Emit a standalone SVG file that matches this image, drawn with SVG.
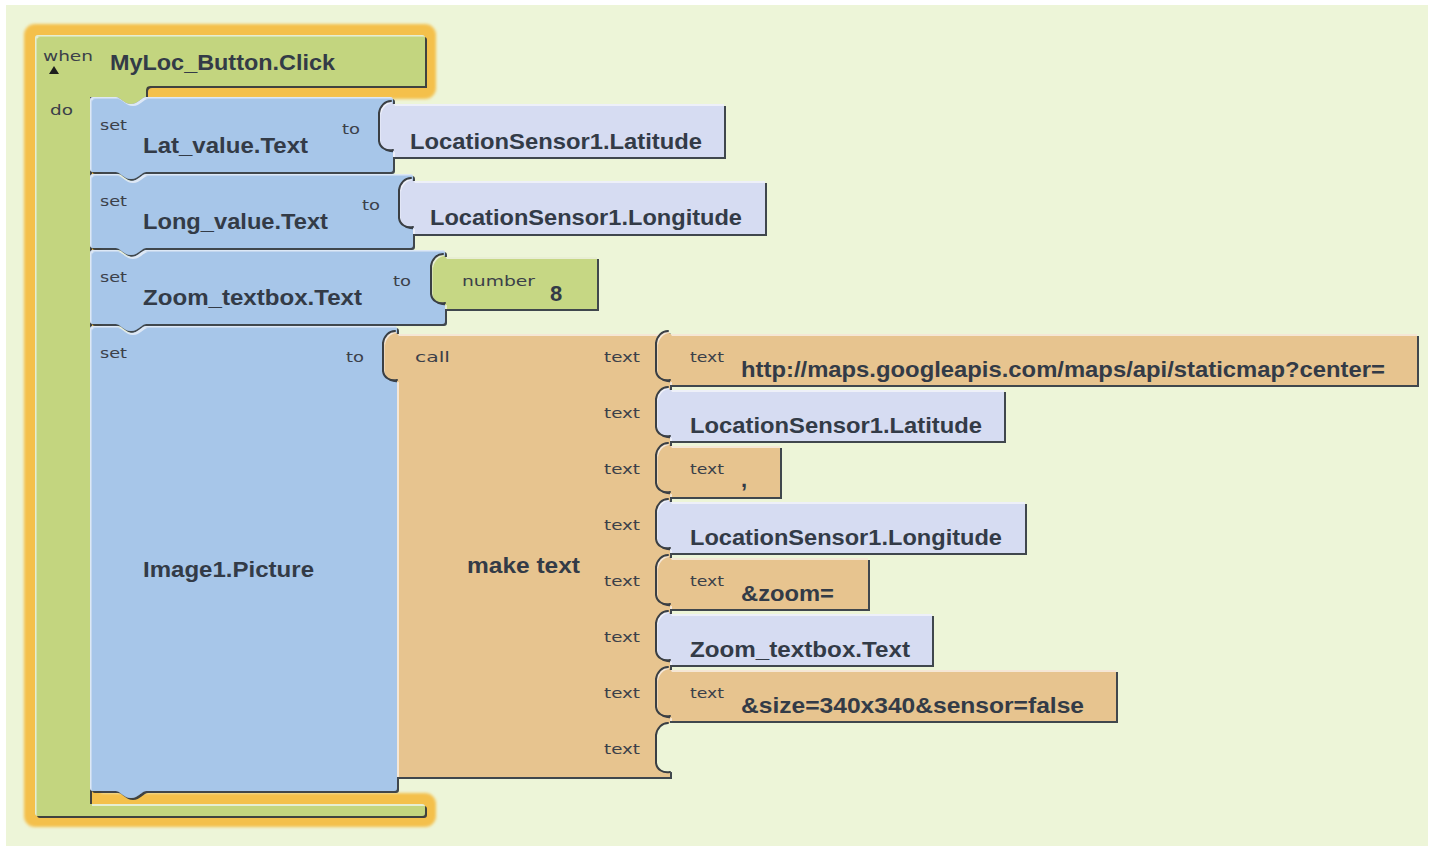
<svg xmlns="http://www.w3.org/2000/svg" width="1433" height="850" viewBox="0 0 1433 850">
  <defs>
    <style>
      .lbl { font-family: "DejaVu Sans", "Liberation Sans", sans-serif; font-size: 14px; fill: #3b4049; }
      .big { font-family: "Liberation Sans", Arial, sans-serif; font-weight: bold; font-size: 22px; fill: #333b47; }
      .event { fill: #c3d57f; }
      .setb { fill: #a7c6e9; }
      .getb { fill: #d6dcf2; }
      .txtb { fill: #e7c48f; }
      .numb { fill: #c6d784; }
      .sock { fill: none; stroke: #3a3f44; stroke-width: 2; stroke-linecap: round; }
    </style>
    <!-- dark lower/right rim plus a pale upper/left rim on every block -->
    <filter id="bevel" x="-5%" y="-5%" width="110%" height="110%">
      <feOffset in="SourceAlpha" dx="2" dy="2" result="off"/>
      <feFlood flood-color="#2b333d" flood-opacity="0.9"/>
      <feComposite in2="off" operator="in" result="shade"/>
      <feOffset in="SourceAlpha" dx="1.5" dy="1.5" result="off2"/>
      <feComposite in="SourceAlpha" in2="off2" operator="out" result="rim"/>
      <feFlood flood-color="#ffffff" flood-opacity="0.55"/>
      <feComposite in2="rim" operator="in" result="hl"/>
      <feMerge>
        <feMergeNode in="shade"/>
        <feMergeNode in="SourceGraphic"/>
        <feMergeNode in="hl"/>
      </feMerge>
    </filter>
    <filter id="glow" x="-10%" y="-10%" width="120%" height="120%">
      <feGaussianBlur stdDeviation="1.6"/>
    </filter>
  </defs>

  <!-- canvas -->
  <rect x="0" y="0" width="1433" height="850" fill="#ffffff"/>
  <rect x="6" y="5" width="1422" height="841" fill="#edf5d8"/>

  <g id="connectors"/>

  <!-- event handler: when MyLoc_Button.Click do -->
  <g id="when-block">
    <path filter="url(#glow)" fill="none" stroke="#f4c04c" stroke-width="22" stroke-linejoin="round"
          d="M35,35 H425 V88 H90 V804 H425 V816 H35 Z"/>
    <path class="event" filter="url(#bevel)"
          d="M35,38 Q35,35 38,35 H422 Q425,35 425,38 V86 H150 Q146,86 146,90 V97 C142,97 138,104 131,104 C124,104 120,97 116,97 H90 V804 H422 Q425,804 425,807 V813 Q425,816 422,816 H38 Q35,816 35,813 Z"/>
    <text class="lbl" x="43" y="61" textLength="50" lengthAdjust="spacingAndGlyphs">when</text>
    <polygon points="54,66 49,74 59,74" fill="#1e1e1e"/>
    <text class="big" x="110" y="70" textLength="225" lengthAdjust="spacingAndGlyphs">MyLoc_Button.Click</text>
    <text class="lbl" x="50" y="115" textLength="23" lengthAdjust="spacingAndGlyphs">do</text>
  </g>

  <!-- set Lat_value.Text -->
  <g id="set-lat">
    <path class="setb" filter="url(#bevel)"
          d="M90,100 Q90,97 93,97 H116 C120,97 124,104 131,104 C138,104 142,97 146,97 H390 Q393,97 393,100 V169 Q393,172 390,172 H146 C142,172 138,179 131,179 C124,179 120,172 116,172 H93 Q90,172 90,169 Z"/>
    <text class="lbl" x="100" y="130" textLength="27" lengthAdjust="spacingAndGlyphs">set</text>
    <text class="big" x="143" y="153" textLength="165" lengthAdjust="spacingAndGlyphs">Lat_value.Text</text>
    <text class="lbl" x="342" y="134" textLength="18" lengthAdjust="spacingAndGlyphs">to</text>
  </g>
  <g id="get-lat-1">
    <path class="getb" filter="url(#bevel)"
          d="M393,104 H724 V157 H393 V150 C386,151 380,148 379,141 V113 C380,106 385,101 391,101 Z"/>
    <path class="sock" d="M393,150 C386,151 380,148 379,141 V113 C380,106 385,101 391,101"/>
    <text class="big" x="410" y="149" textLength="292" lengthAdjust="spacingAndGlyphs">LocationSensor1.Latitude</text>
  </g>

  <!-- set Long_value.Text -->
  <g id="set-long">
    <path class="setb" filter="url(#bevel)"
          d="M90,177 Q90,174 93,174 H116 C120,174 124,181 131,181 C138,181 142,174 146,174 H410 Q413,174 413,177 V245 Q413,248 410,248 H146 C142,248 138,255 131,255 C124,255 120,248 116,248 H93 Q90,248 90,245 Z"/>
    <text class="lbl" x="100" y="206" textLength="27" lengthAdjust="spacingAndGlyphs">set</text>
    <text class="big" x="143" y="229" textLength="185" lengthAdjust="spacingAndGlyphs">Long_value.Text</text>
    <text class="lbl" x="362" y="210" textLength="18" lengthAdjust="spacingAndGlyphs">to</text>
  </g>
  <g id="get-long-1">
    <path class="getb" filter="url(#bevel)"
          d="M413,181 H765 V234 H413 V227 C406,228 400,225 399,218 V190 C400,183 405,178 411,178 Z"/>
    <path class="sock" d="M413,227 C406,228 400,225 399,218 V190 C400,183 405,178 411,178"/>
    <text class="big" x="430" y="225" textLength="312" lengthAdjust="spacingAndGlyphs">LocationSensor1.Longitude</text>
  </g>

  <!-- set Zoom_textbox.Text -->
  <g id="set-zoom">
    <path class="setb" filter="url(#bevel)"
          d="M90,253 Q90,250 93,250 H116 C120,250 124,257 131,257 C138,257 142,250 146,250 H442 Q445,250 445,253 V321 Q445,324 442,324 H146 C142,324 138,331 131,331 C124,331 120,324 116,324 H93 Q90,324 90,321 Z"/>
    <text class="lbl" x="100" y="282" textLength="27" lengthAdjust="spacingAndGlyphs">set</text>
    <text class="big" x="143" y="305" textLength="219" lengthAdjust="spacingAndGlyphs">Zoom_textbox.Text</text>
    <text class="lbl" x="393" y="286" textLength="18" lengthAdjust="spacingAndGlyphs">to</text>
  </g>
  <g id="number-8">
    <path class="numb" filter="url(#bevel)"
          d="M445,257 H597 V309 H445 V303 C438,304 432,301 431,294 V266 C432,259 437,254 443,254 Z"/>
    <path class="sock" d="M445,303 C438,304 432,301 431,294 V266 C432,259 437,254 443,254"/>
    <text class="lbl" x="462" y="286" textLength="73" lengthAdjust="spacingAndGlyphs">number</text>
    <text class="big" x="550" y="301">8</text>
  </g>

  <!-- set Image1.Picture -->
  <g id="set-picture">
    <path class="setb" filter="url(#bevel)"
          d="M90,329 Q90,326 93,326 H116 C120,326 124,333 131,333 C138,333 142,326 146,326 H394 Q397,326 397,329 V788 Q397,791 394,791 H146 C142,791 138,798 131,798 C124,798 120,791 116,791 H93 Q90,791 90,788 Z"/>
    <text class="lbl" x="100" y="358" textLength="27" lengthAdjust="spacingAndGlyphs">set</text>
    <text class="big" x="143" y="577" textLength="171" lengthAdjust="spacingAndGlyphs">Image1.Picture</text>
    <text class="lbl" x="346" y="362" textLength="18" lengthAdjust="spacingAndGlyphs">to</text>
  </g>

  <!-- call make text -->
  <g id="make-text">
    <path class="txtb" filter="url(#bevel)"
          d="M397,334 H670 V777 H397 V380 C390,381 384,378 383,371 V343 C384,336 389,331 395,331 Z"/>
    <path class="sock" d="M397,380 C390,381 384,378 383,371 V343 C384,336 389,331 395,331"/>
    <text class="lbl" x="415" y="362" textLength="35" lengthAdjust="spacingAndGlyphs">call</text>
    <text class="big" x="467" y="573" textLength="113" lengthAdjust="spacingAndGlyphs">make text</text>
    <text class="lbl" x="604" y="362" textLength="36" lengthAdjust="spacingAndGlyphs">text</text>
    <text class="lbl" x="604" y="418" textLength="36" lengthAdjust="spacingAndGlyphs">text</text>
    <text class="lbl" x="604" y="474" textLength="36" lengthAdjust="spacingAndGlyphs">text</text>
    <text class="lbl" x="604" y="530" textLength="36" lengthAdjust="spacingAndGlyphs">text</text>
    <text class="lbl" x="604" y="586" textLength="36" lengthAdjust="spacingAndGlyphs">text</text>
    <text class="lbl" x="604" y="642" textLength="36" lengthAdjust="spacingAndGlyphs">text</text>
    <text class="lbl" x="604" y="698" textLength="36" lengthAdjust="spacingAndGlyphs">text</text>
    <text class="lbl" x="604" y="754" textLength="36" lengthAdjust="spacingAndGlyphs">text</text>
    <!-- open socket at the end of the list -->
    <path fill="#edf5d8" d="M672,772 C663,773 657,770 656,763 V735 C657,728 662,723 668,723 L672,723 Z"/>
    <path class="sock" d="M670,772 C663,773 657,770 656,763 V735 C657,728 662,723 668,723"/>
  </g>

  <g id="text-url">
    <path class="txtb" filter="url(#bevel)"
          d="M670,334 H1417 V385 H670 V380 C663,381 657,378 656,371 V343 C657,336 662,331 668,331 Z"/>
    <path class="sock" d="M670,380 C663,381 657,378 656,371 V343 C657,336 662,331 668,331"/>
    <text class="lbl" x="690" y="362" textLength="34" lengthAdjust="spacingAndGlyphs">text</text>
    <text class="big" x="741" y="377" textLength="644" lengthAdjust="spacingAndGlyphs">http://maps.googleapis.com/maps/api/staticmap?center=</text>
  </g>

  <g id="get-lat-2">
    <path class="getb" filter="url(#bevel)"
          d="M670,390 H1004 V441 H670 V436 C663,437 657,434 656,427 V399 C657,392 662,387 668,387 Z"/>
    <path class="sock" d="M670,436 C663,437 657,434 656,427 V399 C657,392 662,387 668,387"/>
    <text class="big" x="690" y="433" textLength="292" lengthAdjust="spacingAndGlyphs">LocationSensor1.Latitude</text>
  </g>

  <g id="text-comma">
    <path class="txtb" filter="url(#bevel)"
          d="M670,446 H780 V497 H670 V492 C663,493 657,490 656,483 V455 C657,448 662,443 668,443 Z"/>
    <path class="sock" d="M670,492 C663,493 657,490 656,483 V455 C657,448 662,443 668,443"/>
    <text class="lbl" x="690" y="474" textLength="34" lengthAdjust="spacingAndGlyphs">text</text>
    <text class="big" x="741" y="487">,</text>
  </g>

  <g id="get-long-2">
    <path class="getb" filter="url(#bevel)"
          d="M670,502 H1025 V553 H670 V548 C663,549 657,546 656,539 V511 C657,504 662,499 668,499 Z"/>
    <path class="sock" d="M670,548 C663,549 657,546 656,539 V511 C657,504 662,499 668,499"/>
    <text class="big" x="690" y="545" textLength="312" lengthAdjust="spacingAndGlyphs">LocationSensor1.Longitude</text>
  </g>

  <g id="text-zoom">
    <path class="txtb" filter="url(#bevel)"
          d="M670,558 H868 V609 H670 V604 C663,605 657,602 656,595 V567 C657,560 662,555 668,555 Z"/>
    <path class="sock" d="M670,604 C663,605 657,602 656,595 V567 C657,560 662,555 668,555"/>
    <text class="lbl" x="690" y="586" textLength="34" lengthAdjust="spacingAndGlyphs">text</text>
    <text class="big" x="741" y="601" textLength="93" lengthAdjust="spacingAndGlyphs">&amp;zoom=</text>
  </g>

  <g id="get-zoom">
    <path class="getb" filter="url(#bevel)"
          d="M670,614 H932 V665 H670 V660 C663,661 657,658 656,651 V623 C657,616 662,611 668,611 Z"/>
    <path class="sock" d="M670,660 C663,661 657,658 656,651 V623 C657,616 662,611 668,611"/>
    <text class="big" x="690" y="657" textLength="220" lengthAdjust="spacingAndGlyphs">Zoom_textbox.Text</text>
  </g>

  <g id="text-size">
    <path class="txtb" filter="url(#bevel)"
          d="M670,670 H1116 V721 H670 V716 C663,717 657,714 656,707 V679 C657,672 662,667 668,667 Z"/>
    <path class="sock" d="M670,716 C663,717 657,714 656,707 V679 C657,672 662,667 668,667"/>
    <text class="lbl" x="690" y="698" textLength="34" lengthAdjust="spacingAndGlyphs">text</text>
    <text class="big" x="741" y="713" textLength="343" lengthAdjust="spacingAndGlyphs">&amp;size=340x340&amp;sensor=false</text>
  </g>
</svg>
